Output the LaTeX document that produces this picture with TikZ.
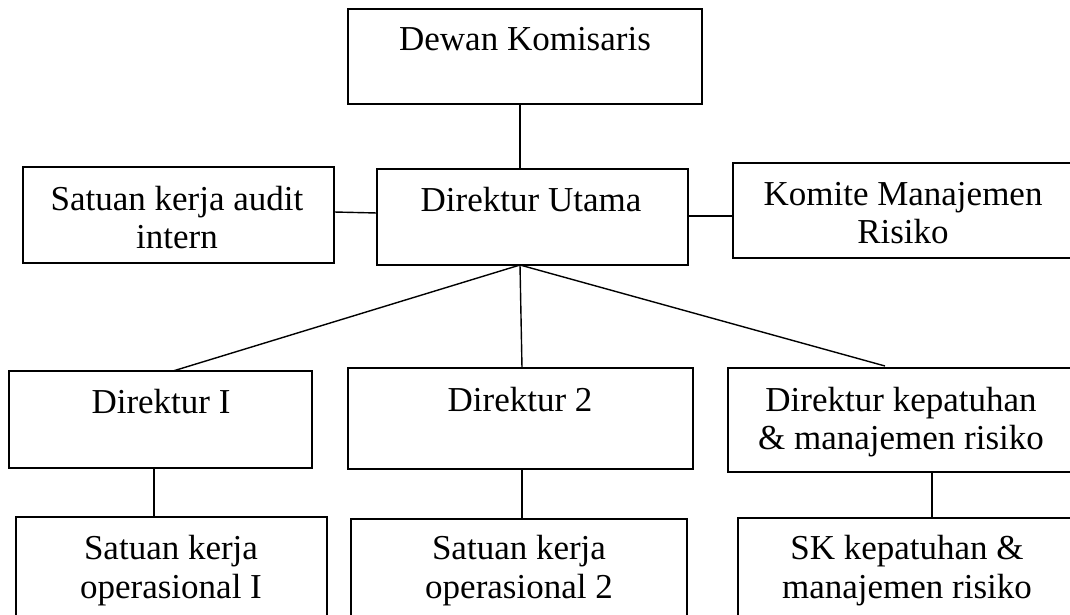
\documentclass[tikz,border=0pt]{standalone}
\usepackage{fontspec}
\setmainfont{Liberation Serif}
\begin{document}
\begin{tikzpicture}[x=1pt,y=-1pt,
  box/.style={draw=black,line width=1.8pt,rectangle,inner sep=0pt,outer sep=0pt},
  lbl/.style={inner sep=0pt,outer sep=0pt,anchor=base,font=\fontsize{35}{38}\selectfont},
  link/.style={draw=black,line width=1.4pt}]
\useasboundingbox (0,0) rectangle (1070,615);
\clip (0,0) rectangle (1070,615);
\fill[white] (0,0) rectangle (1070,615);
% boxes
\node[box,minimum width=354pt,minimum height=95pt] (dk) at (525,56.5) {};
\node[box,minimum width=311pt,minimum height=96pt] (du) at (532.5,217) {};
\node[box,minimum width=311pt,minimum height=96pt] (au) at (178.5,215) {};
\node[box,minimum width=340pt,minimum height=95pt] (km) at (903,210.5) {};
\node[box,minimum width=303pt,minimum height=97pt] (d1) at (160.5,419.5) {};
\node[box,minimum width=345pt,minimum height=101pt] (d2) at (520.5,418.5) {};
\node[box,minimum width=346pt,minimum height=104pt] (dkp) at (901,420) {};
\node[box,minimum width=311pt,minimum height=130pt] (s1) at (171.5,582) {};
\node[box,minimum width=336pt,minimum height=130pt] (s2) at (519,584) {};
\node[box,minimum width=338pt,minimum height=130pt] (sk) at (907,583) {};
% labels
\node[lbl] (dkt) at (525,51) {Dewan Komisaris};
\node[lbl] (dut) at (531,211) {Direktur Utama};
\node[lbl] (aut1) at (177,210) {Satuan kerja audit};
\node[lbl] (aut2) at (177,248) {intern};
\node[lbl] (kmt1) at (903,205) {Komite Manajemen};
\node[lbl] (kmt2) at (903,243) {Risiko};
\node[lbl] (d1t) at (161,413) {Direktur I};
\node[lbl] (d2t) at (520,411) {Direktur 2};
\node[lbl] (dkpt1) at (901,411) {Direktur kepatuhan};
\node[lbl] (dkpt2) at (901,449) {\& manajemen risiko};
\node[lbl] (s1t1) at (171,559) {Satuan kerja};
\node[lbl] (s1t2) at (171,598) {operasional I};
\node[lbl] (s2t1) at (519,559) {Satuan kerja};
\node[lbl] (s2t2) at (519,598) {operasional 2};
\node[lbl] (skt1) at (907,559) {SK kepatuhan \&};
\node[lbl] (skt2) at (907,598) {manajemen risiko};
% reference columns
\coordinate (xa) at (520,0);
\coordinate (xb) at (173,0);
\coordinate (xc) at (522,0);
\coordinate (xd) at (885,0);
\coordinate (xe) at (154,0);
\coordinate (xf) at (932,0);
\coordinate (hub) at (du.south -| xa);
% connectors
\draw[link] (dk.south -| xa) -- (du.north -| xa);
\draw[link] ([yshift=3pt]au.east) -- ([yshift=4pt]du.west);
\draw[link] ([yshift=1pt]du.east) -- ([yshift=-5.5pt]km.west);
\draw[link] (hub) -- (d1.north -| xb);
\draw[link] (hub) -- (d2.north -| xc);
\draw[link] (hub) -- ([yshift=2pt]dkp.north -| xd);
\draw[link] (d1.south -| xe) -- (s1.north -| xe);
\draw[link] (d2.south -| xc) -- (s2.north -| xc);
\draw[link] (dkp.south -| xf) -- (sk.north -| xf);
\end{tikzpicture}
\end{document}
